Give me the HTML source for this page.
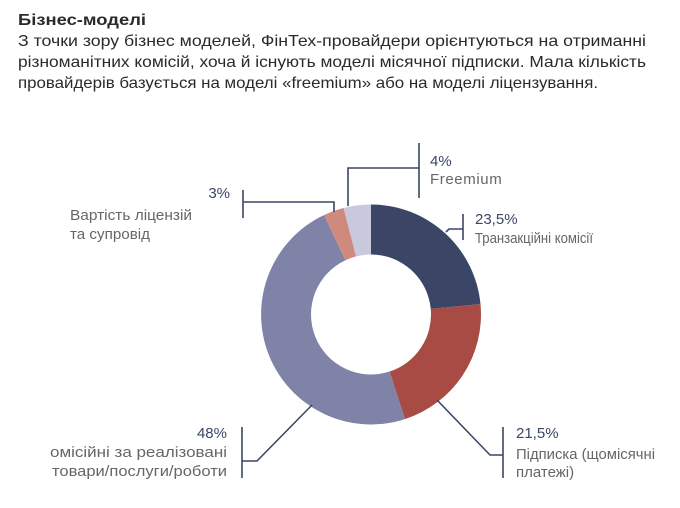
<!DOCTYPE html>
<html><head><meta charset="utf-8"><style>
html,body{margin:0;padding:0;background:#fff;}
svg{display:block;font-family:"Liberation Sans",Arial,sans-serif;}
</style></head><body>
<svg width="680" height="508" viewBox="0 0 680 508">
<g fill="#2a2a2a" font-size="16">
<text x="18" y="25" font-weight="bold" textLength="128" lengthAdjust="spacingAndGlyphs">Бізнес-моделі</text>
<text x="18" y="46" textLength="628" lengthAdjust="spacingAndGlyphs">З точки зору бізнес моделей, ФінТех-провайдери орієнтуються на отриманні</text>
<text x="18" y="67" textLength="628" lengthAdjust="spacingAndGlyphs">різноманітних комісій, хоча й існують моделі місячної підписки. Мала кількість</text>
<text x="18" y="88" textLength="580" lengthAdjust="spacingAndGlyphs">провайдерів базується на моделі «freemium» або на моделі ліцензування.</text>
</g>
<path d="M371,204.5 A110,110 0 0 1 480.5,304.15 L430.73,308.85 A60,60 0 0 0 371,254.5 Z" fill="#3b4666"/>
<path d="M480.5,304.15 A110,110 0 0 1 405,419.1 L389.54,371.56 A60,60 0 0 0 430.73,308.85 Z" fill="#a84b44"/>
<path d="M405,419.1 A110,110 0 0 1 324.16,214.97 L345.45,260.21 A60,60 0 0 0 389.54,371.56 Z" fill="#7f83a8"/>
<path d="M324.16,214.97 A110,110 0 0 1 343.64,207.96 L356.08,256.39 A60,60 0 0 0 345.45,260.21 Z" fill="#d08a7d"/>
<path d="M343.64,207.96 A110,110 0 0 1 371,204.5 L371,254.5 A60,60 0 0 0 356.08,256.39 Z" fill="#c9c9dd"/>
<g stroke="#3b4666" stroke-width="1.6" fill="none">
<path d="M419,143 V198 M419,168 H348 V206"/>
<path d="M243,190 V218 M243,202 H334 V212"/>
<path d="M463,214 V240 M463,229 H449 L446,232"/>
<path d="M242,427 V478 M242,461 H257 L312,405"/>
<path d="M503,427 V478 M503,455 H490 L437,400"/>
</g>
<g font-size="15">
<text x="430" y="166" fill="#3b4666">4%</text>
<text x="430" y="184" fill="#666" letter-spacing="0.6">Freemium</text>
<text x="475" y="224" fill="#3b4666">23,5%</text>
<text x="475" y="243" fill="#666" textLength="118" lengthAdjust="spacingAndGlyphs">Транзакційні комісії</text>
<text x="230" y="198" fill="#3b4666" text-anchor="end">3%</text>
<text x="70" y="220" fill="#666" textLength="122" lengthAdjust="spacingAndGlyphs">Вартість ліцензій</text>
<text x="70" y="239" fill="#666" textLength="80" lengthAdjust="spacingAndGlyphs">та супровід</text>
<text x="227" y="438" fill="#3b4666" text-anchor="end">48%</text>
<text x="50" y="457" fill="#666" textLength="177" lengthAdjust="spacingAndGlyphs">омісійні за реалізовані</text>
<text x="52" y="476" fill="#666" textLength="175" lengthAdjust="spacingAndGlyphs">товари/послуги/роботи</text>
<text x="516" y="438" fill="#3b4666">21,5%</text>
<text x="516" y="459" fill="#666" textLength="139" lengthAdjust="spacingAndGlyphs">Підписка (щомісячні</text>
<text x="516" y="477" fill="#666">платежі)</text>
</g>
</svg>
</body></html>
